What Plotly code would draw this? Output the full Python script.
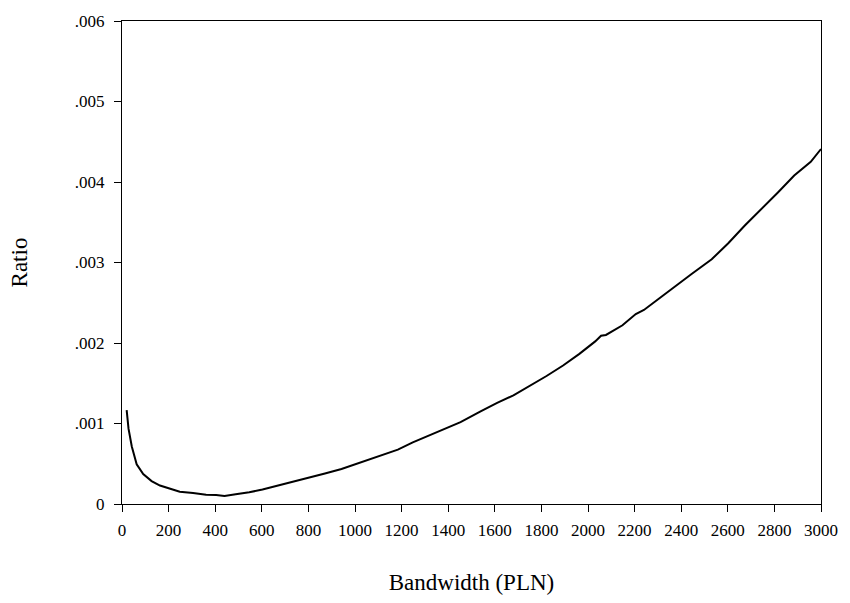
import plotly.graph_objects as go

bandwidth = [20, 28, 42, 63, 91, 127, 163, 201, 248, 305, 361, 404, 440, 488, 546,
             603, 658, 730, 801, 871, 942, 1010, 1041, 1112, 1184, 1248, 1326, 1397,
             1453, 1539, 1610, 1680, 1751, 1822, 1893, 1963, 2031, 2056, 2077, 2148,
             2205, 2240, 2318, 2389, 2446, 2531, 2602, 2673, 2744, 2815, 2885, 2956, 3000]
ratio = [0.001165, 0.000936, 0.000715, 0.000494, 0.000373, 0.000285, 0.000229, 0.000193,
         0.000153, 0.000137, 0.000116, 0.000112, 0.000100, 0.000120, 0.000145, 0.000180,
         0.000220, 0.000270, 0.000325, 0.000380, 0.000434, 0.000500, 0.000534, 0.000606,
         0.000675, 0.000765, 0.000864, 0.000948, 0.001016, 0.001150, 0.001257, 0.001350,
         0.001466, 0.001590, 0.001720, 0.001865, 0.002020, 0.002090, 0.002100, 0.002220,
         0.002360, 0.002410, 0.002580, 0.002740, 0.002860, 0.003040, 0.003240, 0.003460,
         0.003660, 0.003870, 0.004080, 0.004250, 0.004410]

x_ticks = list(range(0, 3001, 200))
y_ticks = [0, 0.001, 0.002, 0.003, 0.004, 0.005, 0.006]
y_tick_labels = ["0", ".001", ".002", ".003", ".004", ".005", ".006"]

font_family = "Liberation Serif"

fig = go.Figure()
fig.add_trace(go.Scatter(x=bandwidth, y=ratio, mode="lines",
                         line=dict(color="black", width=2), showlegend=False))

fig.update_layout(
    width=850, height=603,
    margin=dict(l=122, r=23, t=14, b=92),
    paper_bgcolor="white", plot_bgcolor="white",
    font=dict(family=font_family, size=17, color="black"),
)
fig.update_xaxes(
    range=[0, 3000], tickvals=x_ticks, ticktext=[str(v) for v in x_ticks],
    showgrid=False, zeroline=False, showline=True, linecolor="black", linewidth=1,
    mirror=True, ticks="outside", ticklen=7, tickcolor="black",
    ticklabelstandoff=4,
    title=dict(text="Bandwidth (PLN)", font=dict(size=23), standoff=34),
)
fig.update_yaxes(
    range=[0, 0.006], tickvals=y_ticks, ticktext=y_tick_labels,
    showgrid=False, zeroline=False, showline=True, linecolor="black", linewidth=1,
    mirror=True, ticks="outside", ticklen=7, tickcolor="black",
    ticklabelstandoff=6,
    title=dict(text="Ratio", font=dict(size=23), standoff=40),
)

fig.write_html("out.html",
               config={"displayModeBar": False},
               post_script="document.body.style.margin='0';document.body.style.overflow='hidden';")
